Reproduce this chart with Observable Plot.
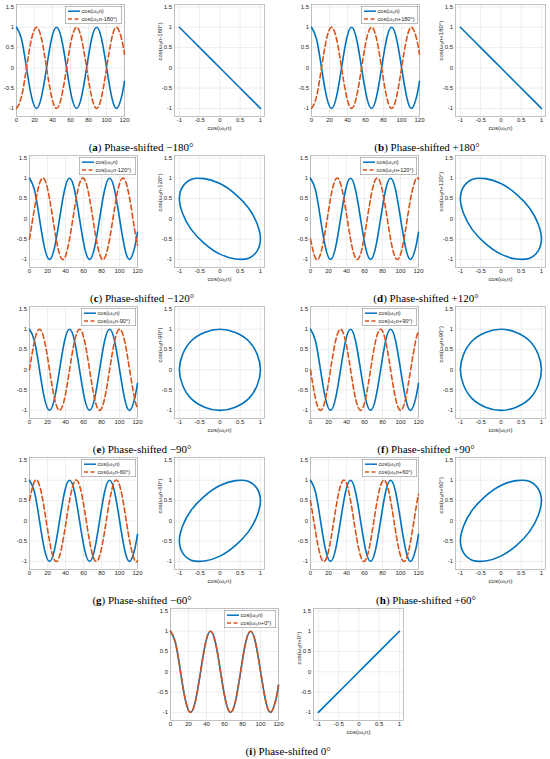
<!DOCTYPE html>
<html><head><meta charset="utf-8">
<script src="https://cdn.jsdelivr.net/npm/d3@7"></script>
<script src="https://cdn.jsdelivr.net/npm/@observablehq/plot@0.6"></script>
<style>
body{margin:0;background:#fff;}
#root{position:relative;width:550px;height:759px;overflow:hidden;background:#fff;}
.plot{position:absolute;}
.cap{position:absolute;font-family:"Liberation Serif","Times New Roman",serif;font-size:11px;font-weight:400;color:#000;white-space:nowrap;transform:translate(-50%,-50%);}
.cap b{font-weight:700;}
.leg{position:absolute;}
</style></head><body><div id="root"></div><script>
// ---- data ----
// time series: samples of n and the two curves
const nSample = [0, 5.56, 11.13, 16.69, 22.25, 27.81, 33.38, 38.94, 44.5, 50.06, 55.63, 61.19, 66.75, 72.31, 77.88, 83.44, 89, 94.56, 100.13, 105.69, 111.25, 116.81, 120];
const cosBase   = [1, 0.71, 0, -0.71, -1, -0.71, 0, 0.71, 1, 0.71, 0, -0.71, -1, -0.71, 0, 0.71, 1, 0.71, 0, -0.71, -1, -0.71, -0.33];
const shiftM180 = [-1, -0.71, 0, 0.71, 1, 0.71, 0, -0.71, -1, -0.71, 0, 0.71, 1, 0.71, 0, -0.71, -1, -0.71, 0, 0.71, 1, 0.71, 0.33];
const shiftP180 = [-1, -0.71, 0, 0.71, 1, 0.71, 0, -0.71, -1, -0.71, 0, 0.71, 1, 0.71, 0, -0.71, -1, -0.71, 0, 0.71, 1, 0.71, 0.33];
const shiftM120 = [-0.5, 0.26, 0.87, 0.97, 0.5, -0.26, -0.87, -0.97, -0.5, 0.26, 0.87, 0.97, 0.5, -0.26, -0.87, -0.97, -0.5, 0.26, 0.87, 0.97, 0.5, -0.26, -0.65];
const shiftP120 = [-0.5, -0.97, -0.87, -0.26, 0.5, 0.97, 0.87, 0.26, -0.5, -0.97, -0.87, -0.26, 0.5, 0.97, 0.87, 0.26, -0.5, -0.97, -0.87, -0.26, 0.5, 0.97, 0.98];
const shiftM90  = [0, 0.71, 1, 0.71, 0, -0.71, -1, -0.71, 0, 0.71, 1, 0.71, 0, -0.71, -1, -0.71, 0, 0.71, 1, 0.71, 0, -0.71, -0.94];
const shiftP90  = [0, -0.71, -1, -0.71, 0, 0.71, 1, 0.71, 0, -0.71, -1, -0.71, 0, 0.71, 1, 0.71, 0, -0.71, -1, -0.71, 0, 0.71, 0.94];
const shiftM60  = [0.5, 0.97, 0.87, 0.26, -0.5, -0.97, -0.87, -0.26, 0.5, 0.97, 0.87, 0.26, -0.5, -0.97, -0.87, -0.26, 0.5, 0.97, 0.87, 0.26, -0.5, -0.97, -0.98];
const shiftP60  = [0.5, -0.26, -0.87, -0.97, -0.5, 0.26, 0.87, 0.97, 0.5, -0.26, -0.87, -0.97, -0.5, 0.26, 0.87, 0.97, 0.5, -0.26, -0.87, -0.97, -0.5, 0.26, 0.65];
const shift0    = [1, 0.71, 0, -0.71, -1, -0.71, 0, 0.71, 1, 0.71, 0, -0.71, -1, -0.71, 0, 0.71, 1, 0.71, 0, -0.71, -1, -0.71, -0.33];

// Lissajous: one period of (cos(w0 n), shifted) pairs
const lissX    = [1, 0.92, 0.71, 0.38, 0, -0.38, -0.71, -0.92, -1, -0.92, -0.71, -0.38, 0, 0.38, 0.71, 0.92];
const lissM180 = [-1, -0.92, -0.71, -0.38, 0, 0.38, 0.71, 0.92, 1, 0.92, 0.71, 0.38, 0, -0.38, -0.71, -0.92];
const lissP180 = [-1, -0.92, -0.71, -0.38, 0, 0.38, 0.71, 0.92, 1, 0.92, 0.71, 0.38, 0, -0.38, -0.71, -0.92];
const lissM120 = [-0.5, -0.13, 0.26, 0.61, 0.87, 0.99, 0.97, 0.79, 0.5, 0.13, -0.26, -0.61, -0.87, -0.99, -0.97, -0.79];
const lissP120 = [-0.5, -0.79, -0.97, -0.99, -0.87, -0.61, -0.26, 0.13, 0.5, 0.79, 0.97, 0.99, 0.87, 0.61, 0.26, -0.13];
const lissM90  = [0, 0.38, 0.71, 0.92, 1, 0.92, 0.71, 0.38, 0, -0.38, -0.71, -0.92, -1, -0.92, -0.71, -0.38];
const lissP90  = [0, -0.38, -0.71, -0.92, -1, -0.92, -0.71, -0.38, 0, 0.38, 0.71, 0.92, 1, 0.92, 0.71, 0.38];
const lissM60  = [0.5, 0.79, 0.97, 0.99, 0.87, 0.61, 0.26, -0.13, -0.5, -0.79, -0.97, -0.99, -0.87, -0.61, -0.26, 0.13];
const lissP60  = [0.5, 0.13, -0.26, -0.61, -0.87, -0.99, -0.97, -0.79, -0.5, -0.13, 0.26, 0.61, 0.87, 0.99, 0.97, 0.79];
const liss0    = [1, 0.92, 0.71, 0.38, 0, -0.38, -0.71, -0.92, -1, -0.92, -0.71, -0.38, 0, 0.38, 0.71, 0.92];

const panelLetters = ["a", "b", "c", "d", "e", "f", "g", "h", "i"];
const phaseLabels = ["−180°", "+180°", "−120°", "+120°", "−90°", "+90°", "−60°", "+60°", "0°"];
const shiftLabels = ["cos(ω₀n-180°)", "cos(ω₀n+180°)", "cos(ω₀n-120°)", "cos(ω₀n+120°)", "cos(ω₀n-90°)", "cos(ω₀n+90°)", "cos(ω₀n-60°)", "cos(ω₀n+60°)", "cos(ω₀n+0°)"];
const baseLabel = "cos(ω₀n)";
const shiftSeries = [shiftM180, shiftP180, shiftM120, shiftP120, shiftM90, shiftP90, shiftM60, shiftP60, shift0];
const lissSeries = [lissM180, lissP180, lissM120, lissP120, lissM90, lissP90, lissM60, lissP60, liss0];
const timeTicks = [0, 20, 40, 60, 80, 100, 120];
const ampTicks = [-1, -0.5, 0, 0.5, 1, 1.5];
const lissTicks = [-1, -0.5, 0, 0.5, 1];

// ---- layout ----
const layout = [
  {row: 0, tx: 15.5, lx: 174, cx: 141},
  {row: 0, tx: 311, lx: 455, cx: 427},
  {row: 1, tx: 29, lx: 174, cx: 142},
  {row: 1, tx: 310, lx: 455, cx: 426},
  {row: 2, tx: 29, lx: 174, cx: 142},
  {row: 2, tx: 310, lx: 455, cx: 426},
  {row: 3, tx: 29, lx: 174, cx: 142},
  {row: 3, tx: 310, lx: 455, cx: 426},
  {row: 4, tx: 169.5, lx: 313, cx: 288}
];
const BLUE = "#0072BD", ORANGE = "#D95319";
const FH = 112, TW = 108, LW = 90;
const yDom = [-1.2, 1.56];
const root = document.getElementById("root");
const fmt = d => String(d);
const baseStyle = {fontFamily: "Liberation Sans, Arial, sans-serif", fontSize: "6px", color: "#262626", background: "transparent", overflow: "visible"};
const gridStyle = {stroke: "#e2e2e2", strokeOpacity: 1, strokeWidth: 0.6};

function place(el, left, top) {
  el.classList.add("plot");
  el.style.left = left + "px";
  el.style.top = top + "px";
  root.appendChild(el);
}

layout.forEach((L, i) => {
  const T = 4.3 + 151 * L.row;
  const phase = shiftSeries[i];
  const base = nSample.map((n, k) => ({n, v: cosBase[k]}));
  const shifted = nSample.map((n, k) => ({n, v: phase[k]}));

  // time plot
  const ML = 20, MR = 3, MT = 3, MB = 14;
  const tp = Plot.plot({
    width: TW + ML + MR, height: FH + MT + MB,
    marginLeft: ML, marginRight: MR, marginTop: MT, marginBottom: MB,
    x: {domain: [0, 120]}, y: {domain: yDom},
    style: baseStyle,
    marks: [
      Plot.gridX(timeTicks, gridStyle),
      Plot.gridY(ampTicks, gridStyle),
      Plot.frame({stroke: "#a8a8a8", strokeWidth: 0.7}),
      Plot.axisX(timeTicks, {tickSize: 0, tickPadding: 1.5, label: null, tickFormat: fmt}),
      Plot.axisY(ampTicks, {tickSize: 0, tickPadding: 2.5, label: null, tickFormat: fmt}),
      Plot.line(base, {x: "n", y: "v", curve: "natural", stroke: BLUE, strokeWidth: 1.6}),
      Plot.line(shifted, {x: "n", y: "v", curve: "natural", stroke: ORANGE, strokeWidth: 1.6, strokeDasharray: "5,3"})
    ]
  });
  place(tp, L.tx - ML, T - MT);

  // legend
  const lw = shiftLabels[i].length >= 13 ? 57 : (shiftLabels[i].length >= 12 ? 55 : 52);
  const lh = 18;
  const leg = d3.create("svg").attr("width", lw).attr("height", lh).attr("class", "leg")
    .style("font-family", "Liberation Sans, Arial, sans-serif").style("font-size", "5.6px");
  leg.append("rect").attr("x", 0.3).attr("y", 0.3).attr("width", lw - 0.6).attr("height", lh - 0.6)
    .attr("fill", "#fff").attr("stroke", "#8f8f8f").attr("stroke-width", 0.6);
  [[baseLabel, BLUE, null, 5.2], [shiftLabels[i], ORANGE, "4,2.5", 13]].forEach(([txt, col, dash, yy]) => {
    const ln = leg.append("line").attr("x1", 3).attr("x2", 15).attr("y1", yy).attr("y2", yy)
      .attr("stroke", col).attr("stroke-width", 1.5);
    if (dash) ln.attr("stroke-dasharray", dash);
    leg.append("text").attr("x", 16.5).attr("y", yy).attr("dy", "0.35em").attr("fill", "#262626").text(txt);
  });
  const legNode = leg.node();
  legNode.style.left = (L.tx + TW - 1.5 - lw) + "px";
  legNode.style.top = (T + 1.2) + "px";
  root.appendChild(legNode);

  // Lissajous plot
  const LML = 30, LMR = 3, LMT = 3, LMB = 22;
  const ly = lissSeries[i];
  const pts = lissX.map((x, k) => ({x, y: ly[k]}));
  const lp = Plot.plot({
    width: LW + LML + LMR, height: FH + LMT + LMB,
    marginLeft: LML, marginRight: LMR, marginTop: LMT, marginBottom: LMB,
    x: {domain: [-1.12, 1.1]}, y: {domain: yDom},
    style: baseStyle,
    marks: [
      Plot.gridX(lissTicks, gridStyle),
      Plot.gridY(ampTicks, gridStyle),
      Plot.frame({stroke: "#a8a8a8", strokeWidth: 0.7}),
      Plot.axisX(lissTicks, {tickSize: 0, tickPadding: 1.5, label: null, tickFormat: fmt}),
      Plot.axisY(ampTicks, {tickSize: 0, tickPadding: 2.5, label: null, tickFormat: fmt}),
      Plot.text([baseLabel], {frameAnchor: "bottom", dy: 13, fill: "#262626"}),
      Plot.text([shiftLabels[i]], {frameAnchor: "left", rotate: -90, dx: -14, fill: "#262626"}),
      Plot.line(pts, {x: "x", y: "y", curve: "catmull-rom-closed", stroke: BLUE, strokeWidth: 1.6})
    ]
  });
  place(lp, L.lx - LML, T - LMT);

  // caption
  const cap = document.createElement("div");
  cap.className = "cap";
  cap.innerHTML = "(<b>" + panelLetters[i] + "</b>) Phase-shifted " + phaseLabels[i];
  cap.style.left = L.cx + "px";
  cap.style.top = (T + 142.7) + "px";
  root.appendChild(cap);
});
</script></body></html>
